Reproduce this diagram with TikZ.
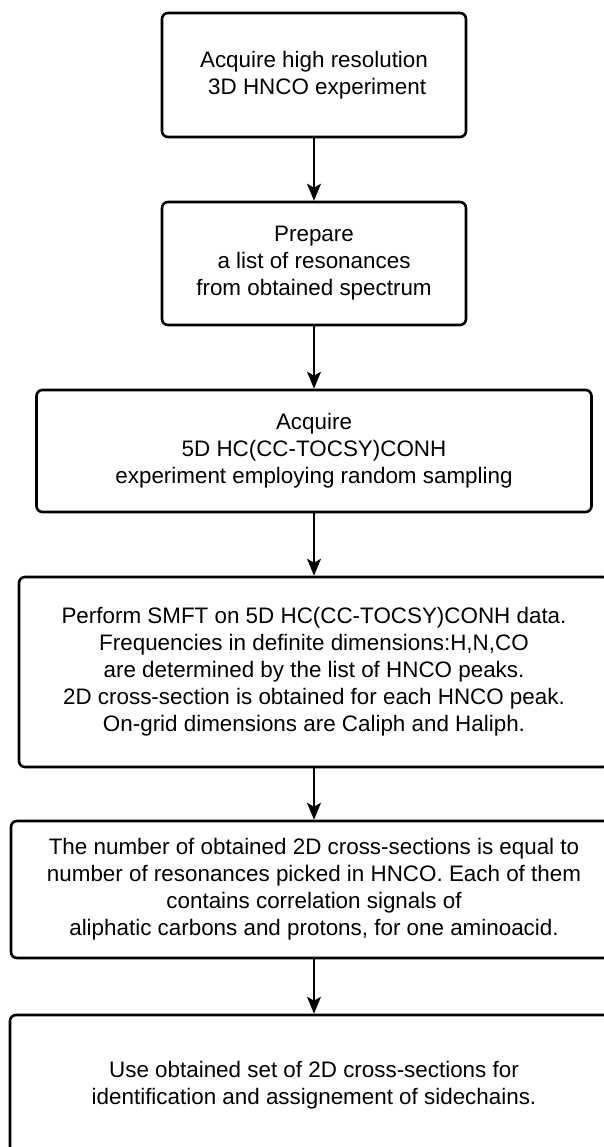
\documentclass[tikz,border=0pt]{standalone}
\usepackage{fontspec}
\setmainfont{Liberation Sans}
\usetikzlibrary{arrows.meta}

\tikzset{
  stepbox/.style={draw=black, line width=2.6pt, rounded corners=6pt,
    align=center, inner sep=0pt, fill=white,
    font=\fontsize{22.4}{26.9}\selectfont},
  flow/.style={line width=1.6pt, -{Stealth[length=17pt,width=14pt,inset=4pt]}}
}

\begin{document}
\begin{tikzpicture}[x=1pt, y=-1pt]
  \useasboundingbox (0,0) rectangle (604,1147);
  \clip (0,0) rectangle (604,1147);
  \fill[white] (0,0) rectangle (604,1147);

  % processing steps, top to bottom
  \node[stepbox, minimum width=304pt, minimum height=124pt] (hnco) at (314,75)
    {Acquire high resolution\\ \mbox{} 3D HNCO experiment};
  \node[stepbox, minimum width=304pt, minimum height=123pt] (list) at (314,263.5)
    {Prepare\\ a list of resonances\\ from obtained spectrum};
  \node[stepbox, minimum width=555pt, minimum height=122pt] (tocsy) at (314,451)
    {Acquire\\ 5D HC(CC-TOCSY)CONH\\ experiment employing random sampling};
  \node[stepbox, minimum width=590pt, minimum height=190pt] (smft) at (314,672)
    {Perform SMFT on 5D HC(CC-TOCSY)CONH data.\\
     Frequencies in definite dimensions:H,N,CO\\
     are determined by the list of HNCO peaks.\\
     2D cross-section is obtained for each HNCO peak.\\
     On-grid dimensions are Caliph and Haliph.};
  \node[stepbox, minimum width=606pt, minimum height=137pt] (sections) at (314,889.5)
    {The number of obtained 2D cross-sections is equal to\\
     number of resonances picked in HNCO. Each of them\\
     contains correlation signals of\\
     aliphatic carbons and protons, for one aminoacid.};
  \node[stepbox, minimum width=608pt, minimum height=140pt] (assign) at (314,1085)
    {Use obtained set of 2D cross-sections for\\
     identification and assignement of sidechains.};

  % connectors
  \draw[flow] (hnco.south) -- (list.north);
  \draw[flow] (list.south) -- (tocsy.north);
  \draw[flow] (tocsy.south) -- (smft.north);
  \draw[flow] (smft.south) -- (sections.north);
  \draw[flow] (sections.south) -- (assign.north);
\end{tikzpicture}
\end{document}
